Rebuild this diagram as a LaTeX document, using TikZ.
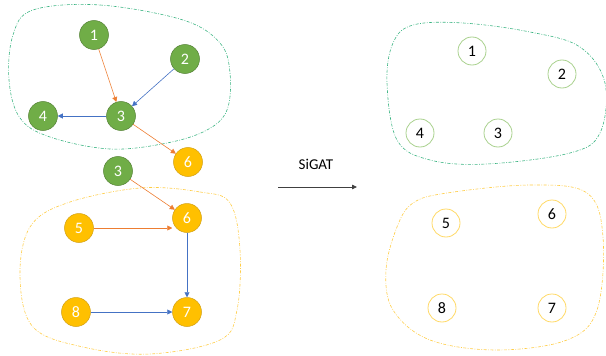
\documentclass[tikz,border=0pt]{standalone}
\usepackage{fontspec}
\setmainfont{Carlito}
\usetikzlibrary{arrows.meta}
\definecolor{gfill}{RGB}{112,173,71}
\definecolor{gdark}{RGB}{84,130,53}
\definecolor{yfill}{RGB}{255,192,0}
\definecolor{ydark}{RGB}{210,160,20}
\definecolor{eor}{RGB}{237,125,49}
\definecolor{ebl}{RGB}{68,114,196}
\definecolor{blobg}{RGB}{60,180,130}
\definecolor{bloby}{RGB}{255,205,70}
\definecolor{hg}{RGB}{169,209,142}
\definecolor{hy}{RGB}{255,217,102}
\tikzset{
  gnode/.style={circle,fill=gfill,draw=gdark,line width=0.5pt,minimum size=29pt,inner sep=0pt,text=white,font=\fontsize{16}{16}\selectfont},
  ynode/.style={circle,fill=yfill,draw=ydark,line width=0.5pt,minimum size=29pt,inner sep=0pt,text=white,font=\fontsize{16}{16}\selectfont},
  hgnode/.style={circle,draw=hg,line width=0.8pt,minimum size=28pt,inner sep=0pt,text=black,font=\fontsize{16}{16}\selectfont},
  hynode/.style={circle,draw=hy,line width=0.8pt,minimum size=28pt,inner sep=0pt,text=black,font=\fontsize{16}{16}\selectfont},
  oedge/.style={draw=eor,line width=0.6pt,-{Triangle[length=5pt,width=5pt]}},
  bedge/.style={draw=ebl,line width=0.6pt,-{Triangle[length=5pt,width=5pt]}},
  blob/.style={line width=0.6pt,dash pattern=on 3pt off 1.5pt on 0.8pt off 1.5pt}
}
\begin{document}
\begin{tikzpicture}[x=1pt,y=-1pt]
\useasboundingbox (0,0) rectangle (606,356);
% blobs
\draw[blob,draw=blobg] plot[smooth cycle,tension=0.6] coordinates {(33,10) (100,5) (183,20) (220,43) (230,73) (227,110) (207,130) (167,143) (110,149) (50,137) (20,118) (9,80) (13,35)};
\draw[blob,draw=bloby] plot[smooth cycle,tension=0.6] coordinates {(140,188) (200,192) (230,203) (240,250) (237,310) (220,340) (150,354) (83,347) (33,327) (20,277) (30,227) (67,203)};
\draw[blob,draw=blobg] plot[smooth cycle,tension=0.6] coordinates {(413,25) (463,23) (530,32) (580,47) (605,83) (600,133) (570,153) (487,164) (430,160) (397,140) (387,83) (393,43)};
\draw[blob,draw=bloby] plot[smooth cycle,tension=0.6] coordinates {(447,193) (530,185) (587,193) (603,237) (597,310) (567,340) (497,350) (430,340) (393,310) (386,270) (397,227) (413,203)};
% left nodes
\node[gnode] (a1) at (94,35) {1};
\node[gnode] (a2) at (185,59) {2};
\node[gnode] (a3) at (121,116) {3};
\node[gnode] (a4) at (43,116) {4};
\node[ynode] (a6) at (188,162) {6};
\node[gnode] (b3) at (118,171) {3};
\node[ynode] (b6) at (187,218) {6};
\node[ynode] (b5) at (79,228) {5};
\node[ynode] (b8) at (76,312) {8};
\node[ynode] (b7) at (187,312) {7};
\draw[oedge] (a1) -- (a3);
\draw[bedge] (a2) -- (a3);
\draw[bedge] (a3) -- (a4);
\draw[oedge] (a3) -- (a6);
\draw[oedge] (b3) -- (b6);
\draw[oedge] (b5) -- (b6.west |- b5);
\draw[bedge] (b6) -- (b7);
\draw[bedge] (b8) -- (b7);
% arrow
\node[font=\fontsize{15}{15}\selectfont] (lab) at (316,164) {SiGAT};
\coordinate (s) at (278,187);
\coordinate (t) at (357,187);
\draw[draw=black!75,line width=0.8pt,-{Triangle[length=5pt,width=4.5pt]}] (s) -- (t);
% right nodes
\node[hgnode] (c1) at (472,51) {1};
\node[hgnode] (c2) at (562,74) {2};
\node[hgnode] (c4) at (420,133) {4};
\node[hgnode] (c3) at (498,133) {3};
\node[hynode] (c5) at (446,223) {5};
\node[hynode] (c6) at (552,214) {6};
\node[hynode] (c8) at (442,308) {8};
\node[hynode] (c7) at (552,308) {7};
\end{tikzpicture}
\end{document}
